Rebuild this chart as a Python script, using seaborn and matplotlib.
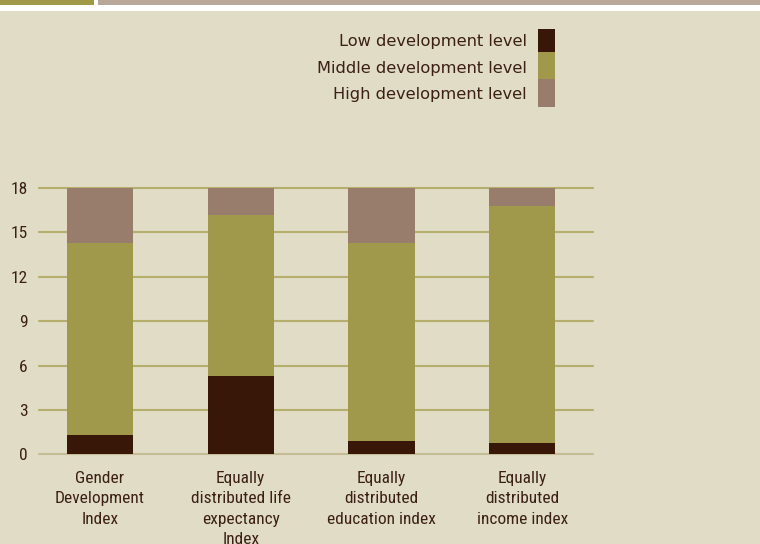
import matplotlib
matplotlib.use("Agg")
import matplotlib.pyplot as plt
from matplotlib.patches import Rectangle
from matplotlib import font_manager
import seaborn as sns
import pandas as pd
import numpy as np

# Share of countries by development level for each index
categories = [
    "Gender\nDevelopment\nIndex",
    "Equally\ndistributed life\nexpectancy\nIndex",
    "Equally\ndistributed\neducation index",
    "Equally\ndistributed\nincome index",
]
low = [1.3, 5.3, 0.9, 0.75]
middle = [13.0, 10.9, 13.4, 16.0]
high = [3.7, 1.8, 3.7, 1.25]
series_names = ["Low development level", "Middle development level", "High development level"]
yticks = [0, 3, 6, 9, 12, 15, 18]

BG = "#e0dcc6"
TEXT = "#3c2014"
C_LOW = "#381608"
C_MID = "#a0984a"
C_HIGH = "#987c6c"
GRID = "#b6ae6c"

sns.set_theme(style="white")
plt.rcParams["font.family"] = ["DejaVu Sans"]

# pick a narrow face for the axis labels
def narrow_font(size):
    names = [f.name for f in font_manager.fontManager.ttflist]
    for cand in ["Liberation Sans Narrow", "Roboto Condensed", "Open Sans Condensed",
                 "DejaVu Sans Condensed"]:
        if cand in names:
            return font_manager.FontProperties(family=cand, size=size)
    cond = [f for f in font_manager.fontManager.ttflist
            if str(f.stretch) in ("condensed", "semi-condensed", "extra-condensed")
            and f.weight in (400, "normal", "regular") and f.style == "normal"]
    if cond:
        return font_manager.FontProperties(fname=cond[0].fname, size=size)
    return font_manager.FontProperties(family="DejaVu Sans", size=size)

axis_font = narrow_font(12.5)

fig = plt.figure(figsize=(7.6, 5.44), dpi=100, facecolor="white")
W, H = 760, 544

def px_rect(x0, y0, x1, y1, color, z=-10):
    fig.patches.append(Rectangle((x0 / W, 1 - y1 / H), (x1 - x0) / W, (y1 - y0) / H,
                                 transform=fig.transFigure, facecolor=color,
                                 edgecolor="none", zorder=z))

# page background and header bands
px_rect(0, 10.5, W, H, BG)
px_rect(0, 0, 93.7, 5, "#a09a48")
px_rect(97.7, 0, W, 5, "#b8a698")

ax = fig.add_axes([38.7 / W, 89.7 / H, (592.7 - 38.7) / W, (454.3 - 188) / H])
ax.set_facecolor("none")
ax.set_zorder(1)

df = pd.DataFrame({"category": categories, "low": low, "middle": middle, "high": high})
df["c_low"] = df["low"]
df["c_mid"] = df["low"] + df["middle"]
df["c_high"] = df["c_mid"] + df["high"]

# stacked bars drawn back to front as cumulative totals
for col, color in [("c_high", C_HIGH), ("c_mid", C_MID), ("c_low", C_LOW)]:
    sns.barplot(data=df, x="category", y=col, color=color, width=0.47,
                saturation=1, ax=ax, zorder=3, linewidth=0, edgecolor="none")

ax.set_xlim(-0.435, 3.5)
ax.set_ylim(0, 18)
ax.set_yticks(yticks)
ax.set_yticklabels([str(v) for v in yticks], fontproperties=axis_font, color=TEXT)
ax.set_xticks(range(len(categories)))
ax.set_xticklabels(categories, fontproperties=axis_font, color=TEXT, linespacing=1.45)
ax.tick_params(axis="y", length=0, pad=8)
ax.tick_params(axis="x", length=0, pad=12)
ax.set_xlabel("")
ax.set_ylabel("")
for s in ax.spines.values():
    s.set_visible(False)

for v in yticks:
    ax.axhline(v, color="#c4bc94" if v == 0 else GRID, linewidth=1.5, zorder=1, clip_on=False)

# legend: labels right-aligned with swatches to their right
swatches = [(29, 52, C_LOW), (52, 79, C_MID), (79, 107, C_HIGH)]
text_y = [41.5, 68, 94]
for (y0, y1, c), ty, name in zip(swatches, text_y, series_names):
    px_rect(538, y0, 555, y1, c, z=1)
    fig.text(527 / W, 1 - ty / H, name, ha="right", va="center",
             fontsize=11.7, color=TEXT)

fig.savefig("out.png", dpi=100, facecolor=fig.get_facecolor())
